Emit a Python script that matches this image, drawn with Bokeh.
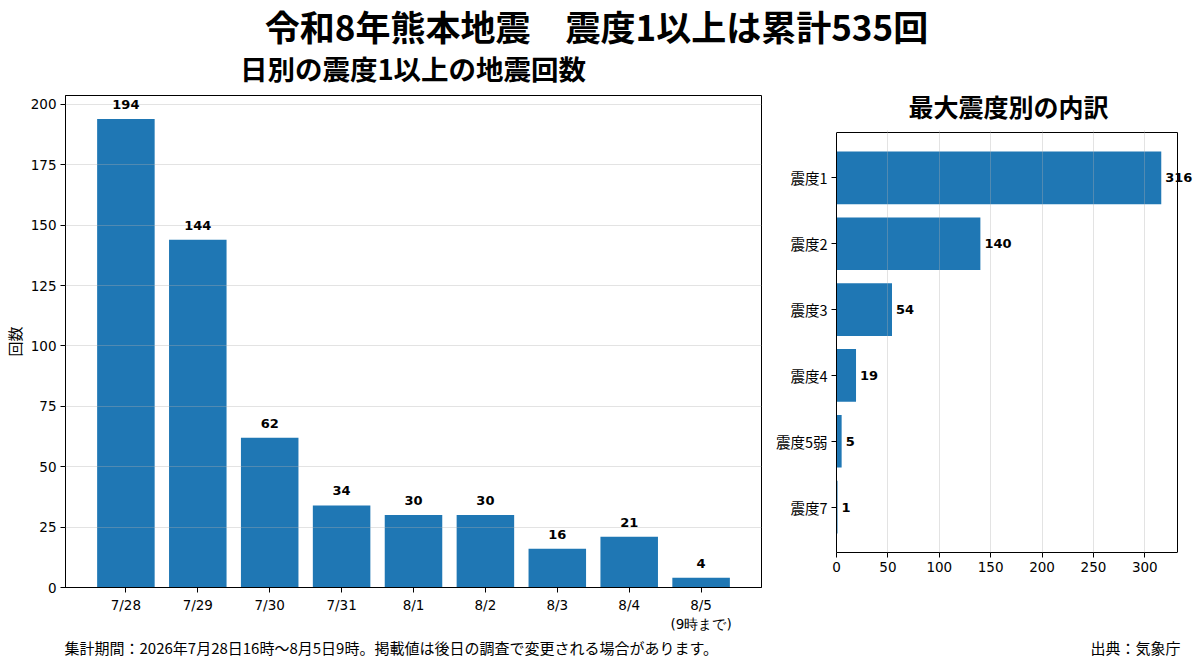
from bokeh.plotting import figure
from bokeh.models import ColumnDataSource, Range1d, FixedTicker, LabelSet
from bokeh.layouts import column, row
from bokeh.core.properties import value
from bokeh.embed import file_html
from bokeh.resources import INLINE

# ---- data ----
main_title = "令和8年熊本地震　震度1以上は累計535回"
left_title = "日別の震度1以上の地震回数"
right_title = "最大震度別の内訳"
footer_left = "集計期間：2026年7月28日16時～8月5日9時。掲載値は後日の調査で変更される場合があります。"
footer_right = "出典：気象庁"

dates = ["7/28", "7/29", "7/30", "7/31", "8/1", "8/2", "8/3", "8/4", "8/5\n(9時まで)"]
daily_counts = [194, 144, 62, 34, 30, 30, 16, 21, 4]

levels = ["震度1", "震度2", "震度3", "震度4", "震度5弱", "震度7"]
level_counts = [316, 140, 54, 19, 5, 1]

y_ticks = [0, 25, 50, 75, 100, 125, 150, 175, 200]
x_ticks_right = [0, 50, 100, 150, 200, 250, 300]

BLUE = "#1f77b4"
CJK = "Noto Sans CJK JP"
NUM = "DejaVu Sans"
W = 1200


def strip(width, height, x0=0, x1=None, bl=0, br=0):
    f = figure(width=width, height=height,
               x_range=Range1d(x0, x1 if x1 is not None else width), y_range=Range1d(height, 0),
               output_backend="svg", toolbar_location=None,
               x_axis_location=None, y_axis_location=None,
               min_border=0, min_border_left=bl, min_border_right=br,
               min_border_top=0, min_border_bottom=0)
    f.outline_line_color = None
    f.grid.visible = False
    f.background_fill_color = "white"
    f.border_fill_color = "white"
    return f


def style_axes(f):
    f.background_fill_color = "white"
    f.border_fill_color = "white"
    for ax in (f.xaxis, f.yaxis):
        ax.axis_line_color = "black"
        ax.major_tick_line_color = "black"
        ax.major_tick_out = 5
        ax.major_tick_in = 0
        ax.minor_tick_line_color = None
        ax.major_label_standoff = 4
        ax.major_label_text_color = "black"
        ax.major_label_text_font = NUM
        ax.major_label_text_font_size = "13.5px"
        ax.axis_label_text_color = "black"


# ---- top strip: main title + left subtitle ----
top = strip(W, 87)
top.text(x=[596], y=[25], text=[main_title], text_font=value(CJK), text_font_style="bold",
         text_font_size="35px", text_align="center", text_baseline="middle", text_color="black")
top.text(x=[412.5], y=[67], text=[left_title], text_font=value(CJK), text_font_style="bold",
         text_font_size="27.5px", text_align="center", text_baseline="middle", text_color="black")

# ---- left chart ----
n = len(dates)
xs = list(range(n))
lsrc = ColumnDataSource(dict(x=xs, top=daily_counts, label=[str(v) for v in daily_counts]))
left = figure(width=766, height=547, output_backend="svg", toolbar_location=None,
              x_range=Range1d(-0.4 - 0.05 * (n - 0.2), n - 1 + 0.4 + 0.05 * (n - 0.2)),
              y_range=Range1d(0, max(daily_counts) * 1.05),
              min_border_left=64, min_border_right=5, min_border_top=8, min_border_bottom=46)
left.vbar(x="x", top="top", width=0.8, source=lsrc, color=BLUE, line_color=None)
left.add_layout(LabelSet(x="x", y="top", text="label", source=lsrc, y_offset=10,
                         text_align="center", text_baseline="bottom", text_font=value(NUM),
                         text_font_style="bold", text_font_size="13px", text_color="black"))
style_axes(left)
left.outline_line_color = "black"
left.outline_line_width = 1
left.xaxis.ticker = FixedTicker(ticks=xs)
left.xaxis.major_label_overrides = {i: d for i, d in zip(xs, dates)}
left.yaxis.ticker = FixedTicker(ticks=y_ticks)
left.yaxis.axis_label = "回数"
left.yaxis.axis_label_text_font = CJK
left.yaxis.axis_label_text_font_style = "normal"
left.yaxis.axis_label_text_font_size = "15px"
left.yaxis.axis_label_standoff = 3
left.xgrid.visible = False
left.ygrid.grid_line_color = "#b0b0b0"
left.ygrid.grid_line_alpha = 0.35
left.ygrid.level = "guide"

# ---- right title strip (its frame lines up with the right chart's frame: x 836..1196) ----
rtop = strip(434, 43, x0=836, x1=1196, bl=70, br=4)
rtop.text(x=[1008], y=[18], text=[right_title], text_font=value(CJK), text_font_style="bold",
          text_font_size="25px", text_align="center", text_baseline="middle", text_color="black")

# ---- right chart ----
m = len(levels)
ys = list(range(m))
x_max = max(level_counts) * 1.05
y_lo = -0.4 - 0.05 * (m - 0.2)
y_hi = m - 1 + 0.4 + 0.05 * (m - 0.2)
# the frame is a little larger than the data box so the value labels are not clipped;
# the data box itself is drawn as spines
px_per_x = (1177 - 836) / x_max
px_per_y = (552 - 132) / (y_hi - y_lo)
x_end = x_max + (1196 - 1177) / px_per_x
y_top = y_lo - 2 / px_per_y

rsrc = ColumnDataSource(dict(y=ys, right=level_counts, label=[str(v) for v in level_counts]))
right = figure(width=434, height=504, output_backend="svg", toolbar_location=None,
               x_range=Range1d(0, x_end), y_range=Range1d(y_hi, y_top),
               min_border_left=70, min_border_right=4, min_border_top=0, min_border_bottom=82)
right.hbar(y="y", right="right", height=0.8, source=rsrc, color=BLUE, line_color=None)
right.add_layout(LabelSet(x="right", y="y", text="label", source=rsrc, x_offset=4,
                          text_align="left", text_baseline="middle", text_font=value(NUM),
                          text_font_style="bold", text_font_size="13px", text_color="black"))
style_axes(right)
right.outline_line_color = None
right.xaxis.bounds = (0, x_max)
right.yaxis.bounds = (y_lo, y_hi)
right.segment(x0=[0, x_max], y0=[y_lo, y_lo], x1=[x_max, x_max], y1=[y_lo, y_hi],
              line_color="black", line_width=1)
right.yaxis.ticker = FixedTicker(ticks=ys)
right.yaxis.major_label_overrides = {i: lv for i, lv in zip(ys, levels)}
right.yaxis.major_label_text_font = CJK
right.yaxis.major_label_text_font_size = "14.5px"
right.xaxis.ticker = FixedTicker(ticks=x_ticks_right)
right.ygrid.visible = False
right.xgrid.grid_line_color = "#b0b0b0"
right.xgrid.grid_line_alpha = 0.35
right.xgrid.level = "guide"
right.xgrid.bounds = (y_lo, y_hi)

# ---- footer ----
foot = strip(W, 32)
foot.text(x=[64], y=[13], text=[footer_left], text_font=value(CJK),
          text_font_size="15px", text_align="left", text_baseline="middle", text_color="black")
foot.text(x=[1180], y=[13], text=[footer_right], text_font=value(CJK),
          text_font_size="15px", text_align="right", text_baseline="middle", text_color="black")

layout = column(top, row(left, column(rtop, right)), foot)
open("out.html", "w").write(file_html(layout, INLINE))
